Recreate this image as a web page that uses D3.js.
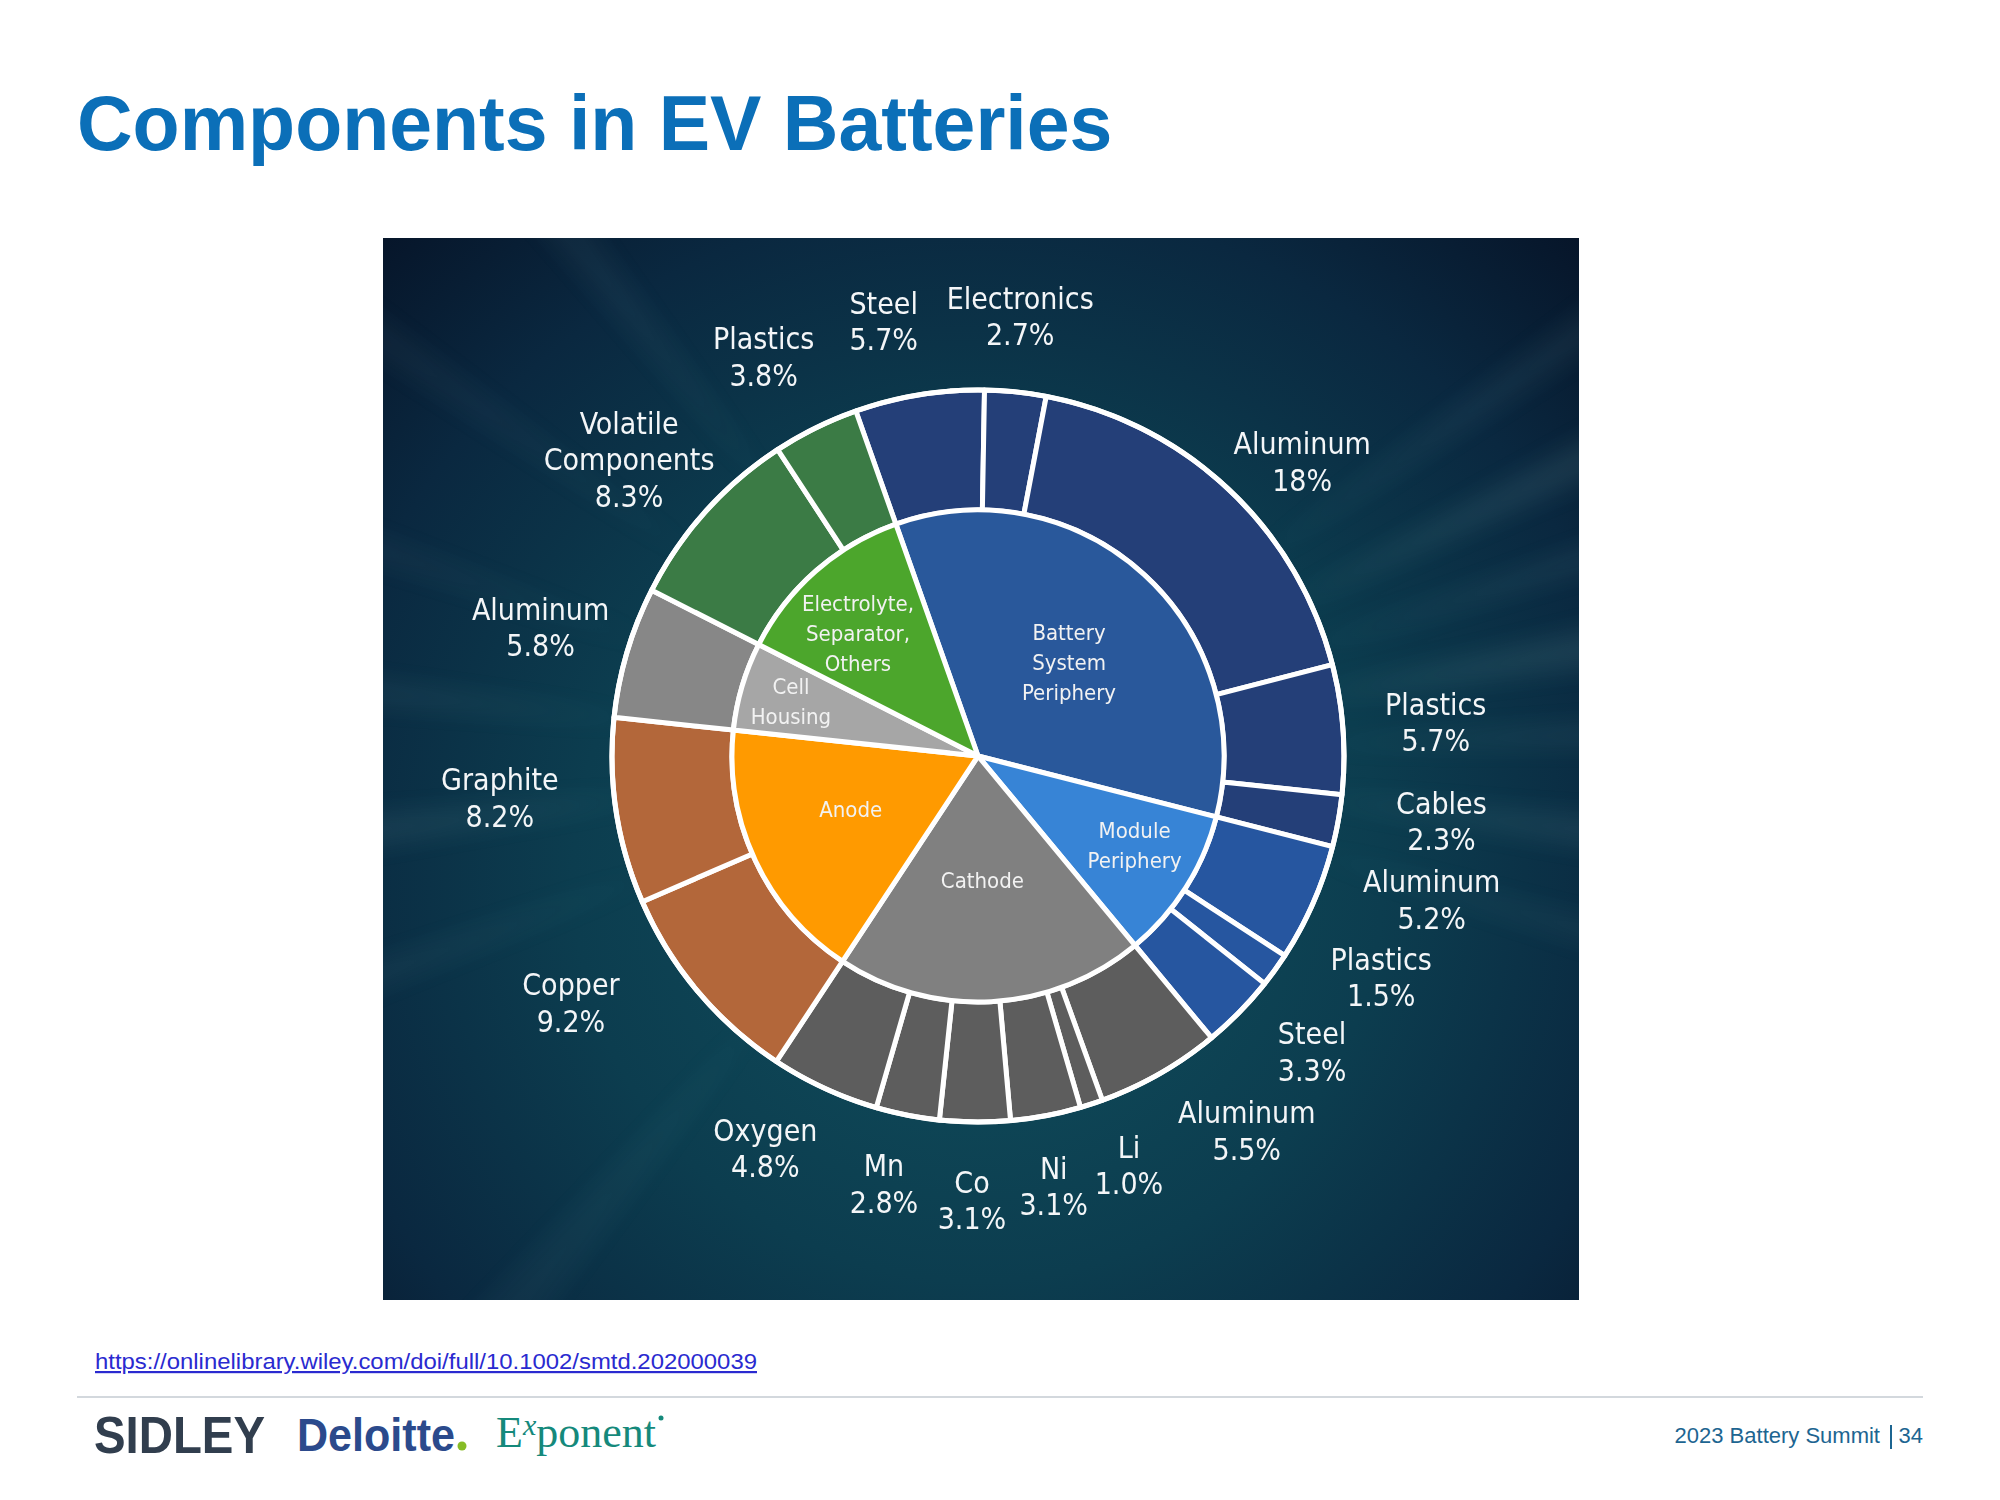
<!DOCTYPE html>
<html lang="en">
<head>
<meta charset="utf-8">
<script src="https://cdn.jsdelivr.net/npm/d3@7"></script>
<style>
  body { margin: 0; background: #ffffff; }
  svg { display: block; }
  .outer-label { font-family: "DejaVu Sans Condensed", "DejaVu Sans", sans-serif; font-stretch: condensed; fill: #f4f6f8; }
  .inner-label { font-family: "DejaVu Sans Condensed", "DejaVu Sans", sans-serif; font-stretch: condensed; fill: #f2f2f2; }
</style>
</head>
<body>
<div id="chart"></div>
<script>

    // inner ring: the six component groups
    const groupNames = ["Battery System Periphery", "Module Periphery", "Cathode", "Anode", "Cell Housing", "Electrolyte, Separator, Others"];
    const groupLabels = ["Battery\nSystem\nPeriphery", "Module\nPeriphery", "Cathode", "Anode", "Cell\nHousing", "Electrolyte,\nSeparator,\nOthers"];

    // outer ring: materials (clockwise from top), their group and share in %
    const materials = ["Steel", "Electronics", "Aluminum", "Plastics", "Cables",
        "Aluminum", "Plastics", "Steel",
        "Aluminum", "Li", "Ni", "Co", "Mn", "Oxygen",
        "Copper", "Graphite",
        "Aluminum",
        "Volatile\nComponents", "Plastics"];
    const materialGroup = [0, 0, 0, 0, 0, 1, 1, 1, 2, 2, 2, 2, 2, 2, 3, 3, 4, 5, 5];
    const shares = [5.7, 2.7, 18, 5.7, 2.3, 5.2, 1.5, 3.3, 5.5, 1.0, 3.1, 3.1, 2.8, 4.8, 9.2, 8.2, 5.8, 8.3, 3.8];

    // layout
    const W = 2000, H = 1500;
    const cx = 978, cy = 756;
    const rIn = 246, rOut = 366;
    const startAngle = -19.5 * Math.PI / 180;

    // label placement: angle shift (deg) from slice middle and distance from centre
    const outerLabelShift = [-3, -0.4, 4.6, 0, -2.2, -6.1, -7, -2.9, -5.9, -2.2, 0.7, 0.3, 1.3, 3.7, 8.8, 3.7, -0.1, -1.5, -1.9];
    const outerLabelRadius = [445, 442, 438, 459, 468, 476, 460, 446, 461, 436, 437, 444, 438, 446, 476, 480, 456, 458, 453];
    const innerLabelShift = [1.6, -2.8, 1.1, 2.6, -0.1, -3];
    const innerLabelRadius = [131, 180, 124, 138, 195, 172];

    const innerColor = d3.scaleOrdinal().domain(d3.range(6))
        .range(["#29589b", "#3784d6", "#808080", "#ff9a00", "#a6a6a6", "#4ca62c"]);
    const outerColor = d3.scaleOrdinal().domain(d3.range(6))
        .range(["#243f78", "#2656a0", "#5d5d5d", "#b3673a", "#878787", "#3b7b45"]);

    const groupShares = groupNames.map((g, i) => d3.sum(shares.filter((s, j) => materialGroup[j] === i)));

    const svg = d3.select("#chart")
        .append("svg")
        .attr("width", W)
        .attr("height", H);

    const defs = svg.append("defs");

    const bg = defs.append("radialGradient")
        .attr("id", "bg")
        .attr("gradientUnits", "userSpaceOnUse")
        .attr("cx", cx).attr("cy", cy + 120).attr("r", 900);
    bg.append("stop").attr("offset", "0%").attr("stop-color", "#11505e");
    bg.append("stop").attr("offset", "45%").attr("stop-color", "#0c3d4f");
    bg.append("stop").attr("offset", "75%").attr("stop-color", "#0a2840");
    bg.append("stop").attr("offset", "100%").attr("stop-color", "#061327");

    defs.append("filter").attr("id", "blur")
        .attr("x", "-20%").attr("y", "-20%").attr("width", "140%").attr("height", "140%")
        .append("feGaussianBlur").attr("stdDeviation", 12);

    defs.append("clipPath").attr("id", "panelClip")
        .append("rect").attr("x", 383).attr("y", 238).attr("width", 1196).attr("height", 1062);

    // ---------- title ----------
    svg.append("text")
        .attr("x", 77)
        .attr("y", 150)
        .style("font-family", "'Liberation Sans', Arial, sans-serif")
        .style("font-weight", "bold")
        .style("font-size", "77px")
        .style("fill", "#0b6fb8")
        .text("Components in EV Batteries");

    // ---------- dark picture panel ----------
    const panel = svg.append("g").attr("clip-path", "url(#panelClip)");
    panel.append("rect")
        .attr("x", 383).attr("y", 238).attr("width", 1196).attr("height", 1062)
        .attr("fill", "url(#bg)");

    // soft light streaks behind the chart
    const rays = [[-55, 3, 0.05], [-38, 4, 0.06], [55, 3, 0.07], [64, 4, 0.10], [72, 2.5, 0.09], [80, 5, 0.10],
        [88, 3, 0.08], [97, 4, 0.09], [106, 3, 0.06], [250, 3, 0.06], [263, 4, 0.09], [276, 3, 0.08], [289, 3, 0.05], [220, 5, 0.04]];
    panel.append("g")
        .attr("filter", "url(#blur)")
        .selectAll("path")
        .data(rays)
        .join("path")
        .attr("d", d => {
            const a = d[0] * Math.PI / 180, w = d[1] * Math.PI / 180, L = 1000;
            const p = (ang, r) => [cx + r * Math.sin(ang), cy - r * Math.cos(ang)];
            const a1 = p(a - w / 2, L), a2 = p(a + w / 2, L), b = p(a, 320);
            return `M${b[0]},${b[1]}L${a1[0]},${a1[1]}L${a2[0]},${a2[1]}Z`;
        })
        .attr("fill", "#a8e0dc")
        .attr("opacity", d => d[2]);

    // ---------- sunburst ----------
    const g = svg.append("g").attr("transform", `translate(${cx},${cy})`);

    const pie = d3.pie()
        .sort(null)
        .startAngle(startAngle)
        .endAngle(startAngle + 2 * Math.PI)
        .value(d => d);

    const innerArcs = pie(groupShares);
    const outerArcs = pie(shares);

    const innerArc = d3.arc().innerRadius(0).outerRadius(rIn);
    const outerArc = d3.arc().innerRadius(rIn).outerRadius(rOut);

    g.selectAll("path.outer")
        .data(outerArcs)
        .join("path")
        .attr("class", "outer")
        .attr("d", outerArc)
        .attr("fill", (d, i) => outerColor(materialGroup[i]))
        .attr("stroke", "#ffffff")
        .attr("stroke-width", 5)
        .attr("stroke-linejoin", "round");

    g.selectAll("path.inner")
        .data(innerArcs)
        .join("path")
        .attr("class", "inner")
        .attr("d", innerArc)
        .attr("fill", (d, i) => innerColor(i))
        .attr("stroke", "#ffffff")
        .attr("stroke-width", 5)
        .attr("stroke-linejoin", "round");

    g.append("circle")
        .attr("r", rOut)
        .attr("fill", "none")
        .attr("stroke", "#ffffff")
        .attr("stroke-width", 5);

    // multi-line label helper
    function addLabel(sel, lines, x, y, size, lh) {
        const t = sel.append("text")
            .attr("text-anchor", "middle")
            .style("font-size", size + "px");
        lines.forEach((line, k) => {
            t.append("tspan")
                .attr("x", x)
                .attr("y", y + (k - (lines.length - 1) / 2) * lh + size * 0.36)
                .text(line);
        });
        return t;
    }

    const fmt = v => v >= 10 ? d3.format(".0f")(v) + "%" : d3.format(".1f")(v) + "%";

    const outerLabels = g.append("g").attr("class", "outer-label");
    outerArcs.forEach((d, i) => {
        const a = (d.startAngle + d.endAngle) / 2 + outerLabelShift[i] * Math.PI / 180;
        const r = outerLabelRadius[i];
        const lines = materials[i].split("\n").concat([fmt(shares[i])]);
        addLabel(outerLabels, lines, r * Math.sin(a), -r * Math.cos(a), 30, 36.5);
    });

    const innerLabels = g.append("g").attr("class", "inner-label");
    innerArcs.forEach((d, i) => {
        const a = (d.startAngle + d.endAngle) / 2 + innerLabelShift[i] * Math.PI / 180;
        const r = innerLabelRadius[i];
        addLabel(innerLabels, groupLabels[i].split("\n"), r * Math.sin(a), -r * Math.cos(a), 22, 30);
    });

    // ---------- footer ----------
    svg.append("text")
        .attr("x", 95)
        .attr("y", 1369)
        .attr("textLength", 662)
        .attr("lengthAdjust", "spacingAndGlyphs")
        .style("font-family", "'Liberation Sans', Arial, sans-serif")
        .style("font-size", "22px")
        .style("fill", "#2a2ad0")
        .style("text-decoration", "underline")
        .text("https://onlinelibrary.wiley.com/doi/full/10.1002/smtd.202000039");

    svg.append("line")
        .attr("x1", 77).attr("x2", 1923)
        .attr("y1", 1397).attr("y2", 1397)
        .attr("stroke", "#d3d8dd")
        .attr("stroke-width", 2);

    svg.append("text")
        .attr("x", 94).attr("y", 1453)
        .attr("textLength", 171)
        .attr("lengthAdjust", "spacingAndGlyphs")
        .style("font-family", "'Liberation Sans Narrow', 'Liberation Sans', sans-serif")
        .style("font-weight", "bold")
        .style("font-size", "51px")
        .style("fill", "#313e4e")
        .text("SIDLEY");

    svg.append("text")
        .attr("x", 297).attr("y", 1451)
        .attr("textLength", 158)
        .attr("lengthAdjust", "spacingAndGlyphs")
        .style("font-family", "'Liberation Sans', Arial, sans-serif")
        .style("font-weight", "bold")
        .style("font-size", "46px")
        .style("fill", "#2b4a8c")
        .text("Deloitte");
    svg.append("circle")
        .attr("cx", 462).attr("cy", 1446).attr("r", 4.5)
        .attr("fill", "#86bc25");

    const expo = svg.append("text")
        .attr("x", 496).attr("y", 1447)
        .style("font-family", "'Liberation Serif', 'DejaVu Serif', serif")
        .style("font-size", "44px")
        .style("fill", "#15897b");
    expo.append("tspan").text("E");
    expo.append("tspan").attr("dy", -12).style("font-size", "30px").style("font-style", "italic").text("x");
    expo.append("tspan").attr("dy", 12).text("ponent");
    svg.append("circle")
        .attr("cx", 661).attr("cy", 1418).attr("r", 2.5)
        .attr("fill", "#15897b");

    svg.append("text")
        .attr("x", 1880).attr("y", 1443)
        .attr("text-anchor", "end")
        .style("font-family", "'Liberation Sans', Arial, sans-serif")
        .style("font-size", "22px")
        .style("fill", "#1d6591")
        .text("2023 Battery Summit");
    svg.append("line")
        .attr("x1", 1891).attr("x2", 1891)
        .attr("y1", 1425).attr("y2", 1449)
        .attr("stroke", "#1d6591")
        .attr("stroke-width", 2);
    svg.append("text")
        .attr("x", 1923).attr("y", 1443)
        .attr("text-anchor", "end")
        .style("font-family", "'Liberation Sans', Arial, sans-serif")
        .style("font-size", "22px")
        .style("fill", "#1d6591")
        .text("34");

</script>
</body>
</html>
